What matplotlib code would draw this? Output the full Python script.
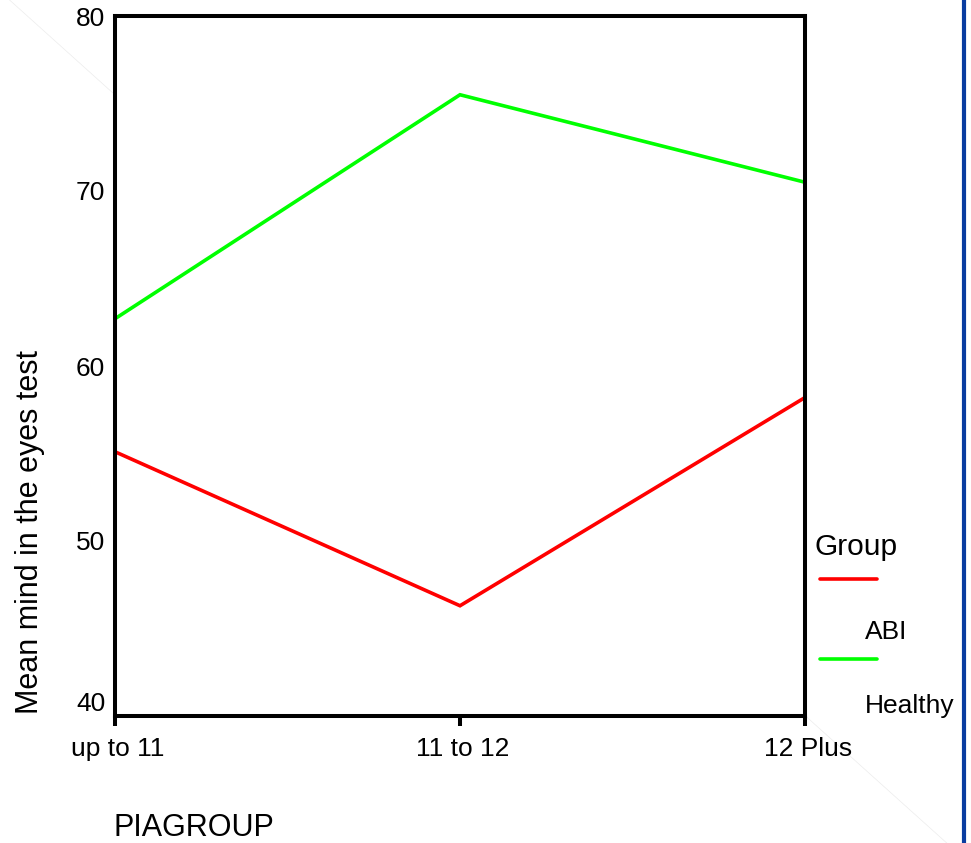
import matplotlib.pyplot as plt
import matplotlib.transforms as mtransforms
from matplotlib.lines import Line2D

plt.rcParams['font.family'] = ['Liberation Sans', 'DejaVu Sans']

categories = ['up to 11', '11 to 12', '12 Plus']
abi = [55.1, 46.3, 58.2]
healthy = [62.7, 75.5, 70.5]
group_names = ['ABI', 'Healthy']
colors = ['#ff0000', '#00ff00']

fig = plt.figure(figsize=(9.71, 8.43), dpi=100)
W, H = 971, 843

# faint diagonal artefact behind the plot
fig.add_artist(Line2D([0.005, 0.975], [1.005, 0.0], transform=fig.transFigure,
                      color='#ececec', lw=0.5, zorder=0))

ax = fig.add_axes([115 / W, 1 - 716 / H, 690 / W, 700 / H])
x = range(len(categories))
for vals, c in zip([abi, healthy], colors):
    ax.plot(x, vals, color=c, lw=2.6, solid_joinstyle='miter')

ax.set_xlim(0, 2)
ax.set_ylim(40, 80)
ax.set_yticks([40, 50, 60, 70, 80])
ax.set_xticks(list(x))
ax.set_xticklabels(categories)
for s in ax.spines.values():
    s.set_linewidth(2.9)
ax.tick_params(axis='y', length=0, pad=7, labelsize=19)
ax.tick_params(axis='x', length=7, width=2.9, pad=8, labelsize=19)

# lowest y label sits above the x axis, x labels slightly right of ticks
ax.get_yticklabels()[0].set_va('bottom')
shift = mtransforms.ScaledTranslation(3 / 100, 0, fig.dpi_scale_trans)
for lab in ax.get_xticklabels():
    lab.set_transform(lab.get_transform() + shift)

fig.text(30 / W, 1 - 532 / H, 'Mean mind in the eyes test', rotation=90,
         ha='center', va='center', fontsize=22)
fig.text(113 / W, 1 - 828 / H, 'PIAGROUP', ha='left', va='center', fontsize=22)

# legend drawn by hand to match the original layout
fig.text(814 / W, 1 - 547 / H, 'Group', ha='left', va='center', fontsize=21.5)
line_y = [579, 659]
text_y = [632, 706]
for name, c, ly, ty in zip(group_names, colors, line_y, text_y):
    fig.add_artist(Line2D([820 / W, 877 / W], [1 - ly / H, 1 - ly / H],
                          transform=fig.transFigure, color=c, lw=2.6,
                          solid_capstyle='round'))
    fig.text(865 / W, 1 - ty / H, name, ha='left', va='center', fontsize=19)

fig.add_artist(Line2D([964 / W, 964 / W], [0, 1], transform=fig.transFigure,
                      color='#0a3ca0', lw=3))

fig.savefig('out.png', dpi=100)
